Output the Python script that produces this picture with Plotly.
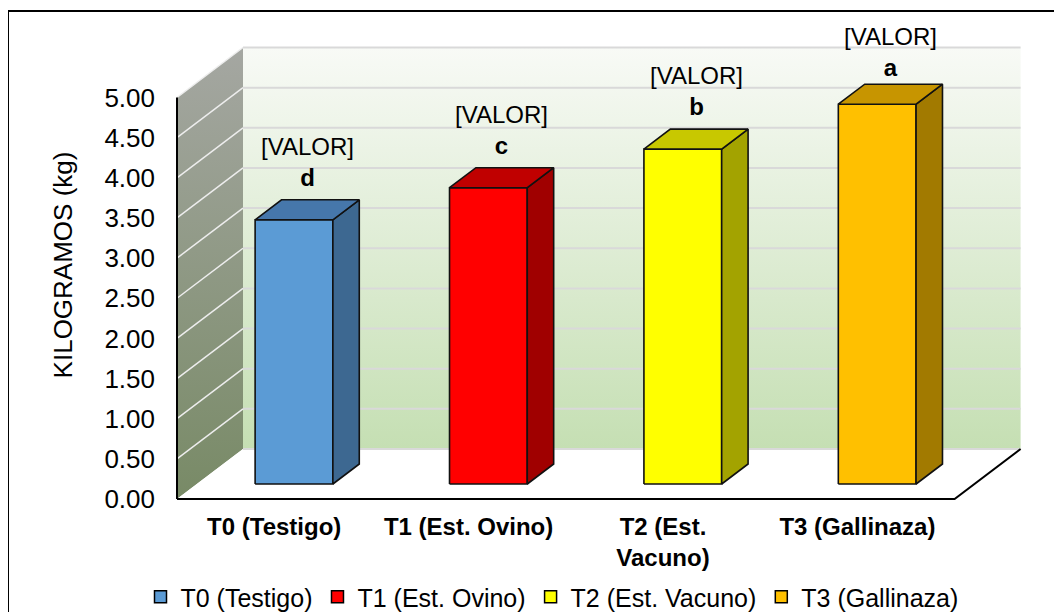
import plotly.graph_objects as go

# ---------------- data ----------------
categories = ["T0 (Testigo)", "T1 (Est. Ovino)", "T2 (Est. Vacuno)", "T3 (Gallinaza)"]
axis_labels = ["T0 (Testigo)", "T1 (Est. Ovino)", "T2 (Est.<br>Vacuno)", "T3 (Gallinaza)"]
values = [3.29, 3.69, 4.17, 4.73]
letters = ["d", "c", "b", "a"]
value_label = "[VALOR]"
y_ticks = [0.0, 0.5, 1.0, 1.5, 2.0, 2.5, 3.0, 3.5, 4.0, 4.5, 5.0]
y_ticktext = ["0.00", "0.50", "1.00", "1.50", "2.00", "2.50", "3.00", "3.50", "4.00", "4.50", "5.00"]
y_title = "KILOGRAMOS (kg)"

front_colors = ["#5B9BD5", "#FF0000", "#FFFF00", "#FFC000"]
top_colors = ["#4677AB", "#C00000", "#C8C800", "#C79500"]
side_colors = ["#3D6891", "#A00000", "#A3A300", "#A27A00"]

# ---------------- geometry (pixel layout of the oblique 3-D frame) ----------------
W, H = 1062, 612
PAGE_OFF = 8                         # default page body margin
PX_CAT, PX_VAL = 194.4, 80.3         # pixels per category / per kg on the front plane
X0PX, Y0PX = 177 - PAGE_OFF, 499 - PAGE_OFF   # figure pixel of front-left origin
DX, DY = 66 / PX_CAT, 50 / PX_VAL    # depth vector in data units
L, R, T, B = 160 - PAGE_OFF, 22 + PAGE_OFF, 20 - PAGE_OFF, 102 + PAGE_OFF
xr = [(L - X0PX) / PX_CAT, (W - R - X0PX) / PX_CAT]
yr = [(Y0PX - (H - B)) / PX_VAL, (Y0PX - T) / PX_VAL]
NCAT = len(categories)
YMAX = y_ticks[-1]
BAR_HALF = 0.2
D0, D1 = 0.3, 0.7                    # bar depth span (fraction of depth)
FONT = "Liberation Sans, Arial, sans-serif"
LABEL_SHIFT = 17                     # px gap above the bar top
LABEL_H = 64                         # approx px height of a two-line label
LABEL_TOP_LIMIT = 19 - PAGE_OFF      # labels are kept inside the chart area

fig = go.Figure()


def poly(xs, ys, **kw):
    fig.add_trace(go.Scatter(x=xs, y=ys, mode="lines", hoverinfo="skip",
                             showlegend=False, **kw))


# back wall
poly([DX, NCAT + DX, NCAT + DX, DX, DX], [DY, DY, YMAX + DY, YMAX + DY, DY],
     fill="toself", line=dict(width=0),
     fillgradient=dict(type="vertical", colorscale=[[0, "#C5DFB3"], [1, "#F8FAF6"]]))
# side wall
poly([0, DX, DX, 0, 0], [0, DY, YMAX + DY, YMAX, 0],
     fill="toself", line=dict(width=0),
     fillgradient=dict(type="vertical", colorscale=[[0, "#788A66"], [1, "#A5A7A2"]]))
# floor
poly([0, NCAT, NCAT + DX, DX, 0], [0, 0, DY, DY, 0],
     fill="toself", fillcolor="white", line=dict(width=0))

# gridlines on back wall
gx, gy = [], []
for v in y_ticks:
    gx += [DX, NCAT + DX, None]
    gy += [v + DY, v + DY, None]
poly(gx, gy, line=dict(color="#D9D9D9", width=2))
# gridlines on side wall
sx, sy = [], []
for v in y_ticks[1:]:
    sx += [0, DX, None]
    sy += [v, v + DY, None]
poly(sx, sy, line=dict(color="#EDEDED", width=1.5))

# floor outline and front axis edge
poly([0, NCAT, NCAT + DX], [0, 0, DY], line=dict(color="black", width=2))
poly([0, 0], [0, YMAX], line=dict(color="black", width=2))

# bars
ddx, ddy = (D1 - D0) * DX, (D1 - D0) * DY
for i, v in enumerate(values):
    c = i + 0.5
    xl = c - BAR_HALF + D0 * DX
    xrr = c + BAR_HALF + D0 * DX
    yb = D0 * DY
    yt = v + D0 * DY
    outline = dict(color="#111111", width=1.6)
    poly([xl, xrr, xrr, xl, xl], [yb, yb, yt, yt, yb], fill="toself",
         fillcolor=front_colors[i], line=outline)
    poly([xrr, xrr + ddx, xrr + ddx, xrr, xrr], [yb, yb + ddy, yt + ddy, yt, yb],
         fill="toself", fillcolor=side_colors[i], line=outline)
    poly([xl, xrr, xrr + ddx, xl + ddx, xl], [yt, yt, yt + ddy, yt + ddy, yt],
         fill="toself", fillcolor=top_colors[i], line=outline)
    ay = v + (D0 + D1) / 2 * DY
    anchor_px = Y0PX - ay * PX_VAL
    shift = max(0, min(LABEL_SHIFT, anchor_px - LABEL_H - LABEL_TOP_LIMIT))
    fig.add_annotation(x=c + (D0 + D1) / 2 * DX, y=ay,
                       text=f"{value_label}<br><b>{letters[i]}</b>",
                       showarrow=False, yanchor="bottom", yshift=shift,
                       font=dict(family=FONT, size=24, color="black"))

# legend entries
for i, name in enumerate(categories):
    fig.add_trace(go.Scatter(x=[None], y=[None], mode="markers", name=name,
                             marker=dict(symbol="square", size=12, color=front_colors[i],
                                         line=dict(color="black", width=1.5))))

plot_w = W - L - R
plot_h = H - T - B


def page_x(px):
    return (px - PAGE_OFF - L) / plot_w


def page_y(py):
    return ((H - B) - (py - PAGE_OFF)) / plot_h


# outer frame
fig.add_shape(type="line", xref="paper", yref="paper",
              x0=page_x(8), x1=page_x(W + 20), y0=page_y(11), y1=page_y(11),
              line=dict(color="black", width=2))
fig.add_shape(type="line", xref="paper", yref="paper",
              x0=page_x(8), x1=page_x(8), y0=page_y(11), y1=page_y(H + 20),
              line=dict(color="black", width=2))

fig.update_layout(
    width=W, height=H,
    margin=dict(l=L, r=R, t=T, b=B, autoexpand=False),
    paper_bgcolor="white", plot_bgcolor="white",
    font=dict(family=FONT, color="black"),
    showlegend=True,
    legend=dict(orientation="h", x=page_x(552), xanchor="center",
                y=page_y(597), yanchor="middle",
                font=dict(family=FONT, size=25, color="black"),
                bgcolor="rgba(0,0,0,0)"),
    xaxis=dict(range=xr, showgrid=False, zeroline=False, showline=False,
               tickvals=[i + 0.5 for i in range(NCAT)],
               ticktext=[f"<b>{t}</b>" for t in axis_labels],
               tickfont=dict(family=FONT, size=24, color="black"),
               ticks="", fixedrange=True),
    yaxis=dict(range=yr, showgrid=False, zeroline=False, showline=False,
               tickvals=y_ticks, ticktext=y_ticktext,
               tickfont=dict(family=FONT, size=26, color="black"),
               ticks="", ticklabelstandoff=4, fixedrange=True,
               title=dict(text=y_title, font=dict(family=FONT, size=26, color="black"),
                          standoff=24)),
)

fig.write_html("out.html")
